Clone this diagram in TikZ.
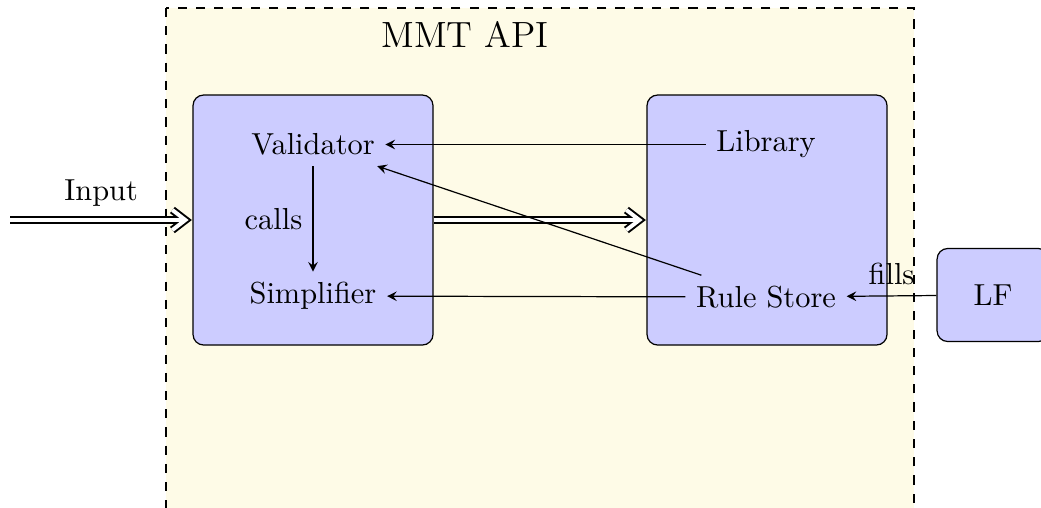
\documentclass[tikz,border=0pt]{standalone}
\usetikzlibrary{arrows,calc}
\definecolor{apibg}{RGB}{254,251,231}
\definecolor{boxblue}{RGB}{204,204,255}
\begin{document}
\begin{tikzpicture}[x=0.329pt,y=-0.329pt,>=stealth,
  bigbox/.style={draw=black,fill=boxblue,rounded corners=3.5pt,minimum width=78.96pt,minimum height=82.25pt,inner sep=0pt},
  lfbox/.style={draw=black,fill=boxblue,rounded corners=3.5pt,minimum width=36.8pt,minimum height=30.6pt},
  lbl/.style={inner sep=3.33pt},
  conn/.style={->},
  dblouter/.style={line width=2.6pt,black,line join=miter,line cap=butt},
  dblinner/.style={line width=1.3pt,white,line join=miter,line cap=butt}]
\clip (0,0) rectangle (1041,507);
\path[use as bounding box] (0,0) rectangle (1041,507);
\draw[dashed,fill=apibg] (166,8) rectangle (914,620);
\node (title) at (465,34) {\large MMT API};
\node[bigbox] (left) at (313,220) {};
\node[bigbox] (right) at (767,220) {};
\node[lfbox] (lf) at (993,295) {LF};
\node[lbl] (validator) at (313,144.5) {Validator};
\node[lbl] (simplifier) at (313,296) {Simplifier};
\node[lbl] (library) at (766,144.5) {Library};
\node[lbl] (rulestore) at (766,297) {Rule Store};
\coordinate (inputstart) at (10,220);
% double arrows: shafts and open chevron tips
\foreach \pass in {dblouter,dblinner}{
  \draw[\pass] (inputstart) -- ($(left.west)+(-9,0)$);
  \draw[\pass] ($(left.west)+(-20,-10)$) -- ($(left.west)+(-7,0)$) -- ($(left.west)+(-20,10)$);
  \draw[\pass] (left.east) -- ($(right.west)+(-9,0)$);
  \draw[\pass] ($(right.west)+(-20,-10)$) -- ($(right.west)+(-7,0)$) -- ($(right.west)+(-20,10)$);
}
\path (inputstart) -- node[above=1pt] {Input} (left.west);
\draw[conn] (validator) -- node[left] {calls} (simplifier);
\draw[conn] (library) -- (validator);
\draw[conn] (rulestore) -- (validator);
\draw[conn] (rulestore) -- (simplifier);
\draw[conn] (lf) -- node[above] {fills} (rulestore);
\end{tikzpicture}
\end{document}
